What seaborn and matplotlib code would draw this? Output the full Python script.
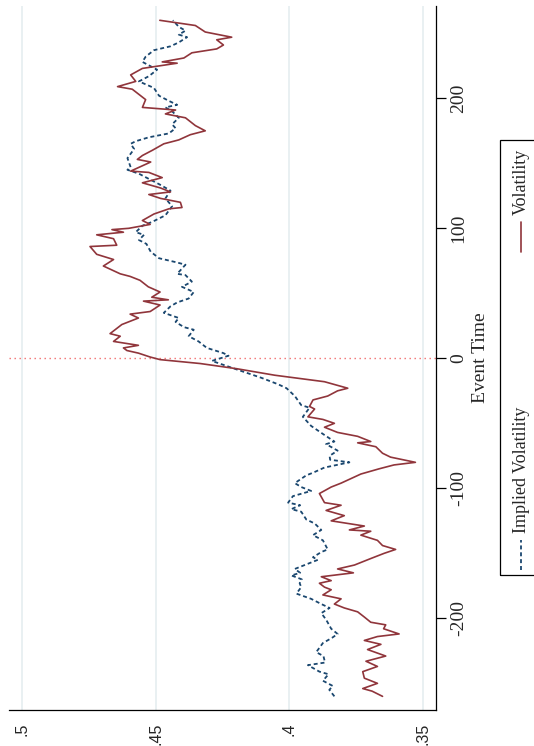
# Event study chart: volatility vs implied volatility around the event (rotated Stata layout)
import numpy as np
import pandas as pd
import seaborn as sns
import matplotlib.pyplot as plt
from matplotlib.lines import Line2D
from matplotlib.patches import Rectangle

# Realised volatility, event time ascending
vol_time = [-260, -256, -254, -250, -246, -241, -237, -233, -229, -224, -220, -217, -214, -212,
            -208, -205, -203, -199, -195, -192, -189, -185, -182, -178, -176, -173, -171, -168,
            -165, -162, -159, -154, -150, -147, -144, -140, -136, -133, -132, -129, -125, -121,
            -117, -113, -111, -104, -99, -96, -89, -85, -82, -80, -76, -73, -68, -65, -64, -60,
            -57, -53, -50, -47, -45, -39, -37, -32, -29, -25, -23, -18, -13, -8, -4, -1,
            1, 4, 6, 8, 10, 13, 17, 19, 26, 31, 34, 36, 41, 44, 45, 47, 51, 55, 60, 63, 65,
            71, 76, 80, 86, 87, 92, 95, 97, 99, 100, 103, 106, 111, 115, 116, 120, 123, 126,
            128, 131, 135, 139, 143, 144, 151, 153, 156, 160, 165, 168, 172, 175, 179, 185,
            188, 191, 193, 199, 203, 207, 209, 213, 218, 223, 227, 228, 231, 235, 238, 241,
            245, 247, 251, 256, 260]
vol_values = [.3651, .3690, .3725, .3670, .3719, .3725, .3670, .3713, .3639, .3707, .3657, .3719,
              .3670, .3589, .3647, .3639, .3695, .3719, .3744, .3794, .3831, .3806, .3874, .3843,
              .3868, .3887, .3843, .3880, .3760, .3819, .3756, .3695, .3645, .3602, .3651, .3670,
              .3732, .3695, .3775, .3719, .3843, .3794, .3862, .3806, .3868, .3887, .3843, .3806,
              .3732, .3664, .3608, .3528, .3621, .3651, .3676, .3744, .3695, .3744, .3819, .3868,
              .3831, .3874, .3930, .3905, .3924, .3911, .3856, .3819, .3781, .3868, .4054, .4196,
              .4333, .4483, .4520, .4564, .4607, .4620, .4564, .4657, .4632, .4670, .4626, .4564,
              .4595, .4520, .4483, .4545, .4452, .4514, .4483, .4527, .4558, .4595, .4632, .4695,
              .4657, .4720, .4745, .4645, .4657, .4720, .4620, .4663, .4600, .4520, .4549, .4506,
              .4450, .4401, .4407, .4481, .4525, .4444, .4481, .4549, .4475, .4525, .4593, .4518,
              .4568, .4549, .4512, .4469, .4413, .4370, .4314, .4351, .4388, .4463, .4425, .4549,
              .4537, .4562, .4587, .4642, .4574, .4593, .4549, .4419, .4475, .4394, .4364, .4271,
              .4246, .4271, .4215, .4314, .4351, .4484]

# Implied volatility, event time ascending
iv_time = [-260, -255, -252, -248, -243, -241, -236, -234, -229, -226, -219, -215, -212, -208,
           -201, -196, -192, -189, -185, -181, -176, -173, -170, -167, -165, -162, -159, -155,
           -153, -149, -147, -140, -136, -132, -127, -124, -118, -116, -113, -111, -106, -102,
           -99, -96, -90, -88, -84, -80, -78, -75, -71, -66, -64, -59, -52, -45, -38, -36,
           -29, -23, -20, -15, -9, -2, 0, 2, 4, 8, 13, 17, 22, 24, 28, 31, 35, 40, 43, 46,
           51, 55, 59, 64, 65, 72, 74, 77, 82, 88, 91, 95, 97, 102, 105, 110, 117, 123, 129,
           134, 138, 142, 145, 147, 154, 161, 165, 167, 170, 173, 177, 180, 185, 190, 193,
           195, 198, 202, 208, 213, 217, 222, 228, 232, 237, 240, 243, 247, 249, 252, 255, 260]
iv_values = [.3831, .3850, .3837, .3874, .3853, .3887, .3930, .3866, .3872, .3899, .3874, .3840,
             .3819, .3843, .3862, .3880, .3849, .3880, .3918, .3973, .3955, .3961, .3953, .3992,
             .3959, .3979, .3942, .3893, .3911, .3880, .3856, .3874, .3911, .3880, .3905, .3936,
             .3955, .3992, .3959, .4004, .3986, .3918, .3955, .3979, .3936, .3911, .3868, .3775,
             .3847, .3849, .3819, .3862, .3831, .3868, .3918, .3949, .3924, .3955, .3979, .4010,
             .4041, .4104, .4190, .4289, .4258, .4227, .4246, .4308, .4339, .4376, .4357, .4394,
             .4425, .4413, .4469, .4444, .4419, .4376, .4357, .4401, .4364, .4388, .4419, .4388,
             .4425, .4487, .4518, .4534, .4562, .4543, .4574, .4549, .4512, .4463, .4438, .4463,
             .4444, .4487, .4525, .4562, .4605, .4593, .4605, .4580, .4593, .4574, .4525, .4450,
             .4425, .4438, .4413, .4438, .4463, .4419, .4450, .4487, .4506, .4562, .4525, .4494,
             .4549, .4537, .4506, .4444, .4413, .4382, .4413, .4388, .4413, .4435]

# Axis ticks
value_ticks = [0.35, 0.40, 0.45, 0.50]
value_labels = ['.35', '.4', '.45', '.5']
time_ticks = [-200, -100, 0, 100, 200]
time_labels = ['-200', '-100', '0', '100', '200']

navy = '#1a476f'
maroon = '#90353b'

sns.set_style('white')
plt.rcParams['font.family'] = ['Liberation Serif', 'DejaVu Serif']

W, H = 534, 746
fig = plt.figure(figsize=(W / 100, H / 100), dpi=100)
# axes box in pixels: left 9, right 436, top 6, bottom 710
ax = fig.add_axes([9 / W, 1 - 710 / H, (436 - 9) / W, (710 - 6) / H])

iv_df = pd.DataFrame({'time': iv_time, 'value': iv_values})
vol_df = pd.DataFrame({'time': vol_time, 'value': vol_values})

# event line at t = 0
ax.axhline(0, color='#f26d6d', lw=1.0, ls=(0, (1, 2.6)), zorder=1)

sns.lineplot(data=iv_df, x='value', y='time', orient='y', sort=False, color=navy,
             lw=1.3, linestyle=(0, (2.2, 1.6)), ax=ax, zorder=3)
sns.lineplot(data=vol_df, x='value', y='time', orient='y', sort=False, color=maroon,
             lw=1.2, ax=ax, zorder=4)

ax.set_xlim(0.5048, 0.3451)
ax.set_ylim(-270.5, 271)

# value axis along the bottom
ax.set_xticks(value_ticks)
ax.set_xticklabels(value_labels, rotation=90, fontfamily='Liberation Sans', fontsize=11.5)
ax.grid(axis='x', color='#e7eff1', lw=1.3)
ax.grid(axis='y', visible=False)

# event time axis on the right
ax.yaxis.tick_right()
ax.yaxis.set_label_position('right')
ax.set_yticks(time_ticks)
ax.set_yticklabels(time_labels, rotation=90, va='center', fontsize=14)
ax.set_ylabel('Event Time', rotation=90, fontsize=14, labelpad=4)
ax.set_xlabel('')

for side in ['left', 'top']:
    ax.spines[side].set_visible(False)
for side in ['right', 'bottom']:
    ax.spines[side].set_color('black')
    ax.spines[side].set_linewidth(0.9)
ax.tick_params(axis='y', direction='out', length=7, width=0.9, color='black', pad=3)
ax.tick_params(axis='x', direction='out', length=7, width=0.9, color='black', pad=2)

# hand built rotated legend
fig.add_artist(Rectangle((500 / W, 1 - 575 / H), 40 / W, 435 / H, transform=fig.transFigure,
                         fill=False, ec='black', lw=0.9))
fig.add_artist(Line2D([521 / W] * 2, [1 - 570 / H, 1 - 540 / H], transform=fig.transFigure,
                      color=navy, lw=1.3, ls=(0, (2.2, 1.6))))
fig.text(521 / W, 1 - 533 / H, 'Implied Volatility', rotation=90, ha='center', va='bottom',
         fontsize=13)
fig.add_artist(Line2D([521 / W] * 2, [1 - 252 / H, 1 - 222 / H], transform=fig.transFigure,
                      color=maroon, lw=1.2))
fig.text(521 / W, 1 - 215 / H, 'Volatility', rotation=90, ha='center', va='bottom', fontsize=13)

fig.savefig('out.png', dpi=100)
